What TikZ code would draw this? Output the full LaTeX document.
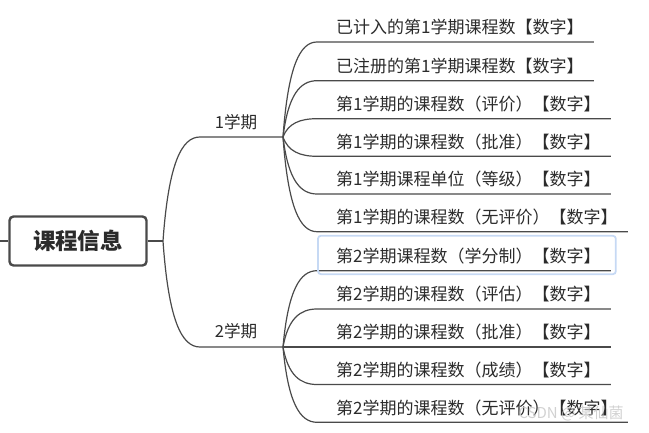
\documentclass[tikz,border=0pt]{standalone}
\usepackage{fontspec}
\newfontfamily\cjk{Noto Sans CJK SC}
\usetikzlibrary{calc}

\definecolor{linegray}{HTML}{4A4A4A}
\definecolor{textgray}{HTML}{2B2B2B}
\definecolor{selblue}{HTML}{C6D9F4}

\tikzset{
  link/.style={draw=linegray, line width=1.2pt},
  branch/.style={to path={.. controls ($(\tikztostart)!0.7!(\tikztostart |- \tikztotarget)!0.15!(\tikztotarget)$) and ($(\tikztostart |- \tikztotarget)!0.5!(\tikztotarget)$) .. (\tikztotarget)}},
  rootbox/.style={draw=linegray, line width=2.4pt, rounded corners=4pt, fill=white, minimum width=137pt, minimum height=49pt, font=\cjk\bfseries\fontsize{22.5}{26}\selectfont, text=textgray},
  leaf/.style={anchor=south west, inner xsep=19pt, inner ysep=4pt, text depth=4pt, font=\cjk\fontsize{17}{20}\selectfont, text=textgray},
  term/.style={font=\cjk\fontsize{16.6}{19}\selectfont, text=textgray},
  selbox/.style={draw=selblue, line width=1.8pt, rounded corners=3pt}
}

\begin{document}
\begin{tikzpicture}[x=1pt,y=-1pt]
\useasboundingbox (0,0) rectangle (649,433);

% root
\coordinate (stub) at (0,241);
\node[rootbox] (root) at (78,241) {课程信息};
\coordinate (j0) at (163,241);
\draw[link, line width=2.6pt] (stub) -- (root.west);
\draw[link] (root.east) -- (j0);

% semesters
\node[term] (s1) at (236,122) {1学期};
\node[term] (s2) at (236,331) {2学期};
\coordinate (h1) at (200,137);
\coordinate (j1) at (283,137);
\coordinate (h2) at (200,347);
\coordinate (j2) at (283,347);
\draw[link] (j0) to[branch] (h1) -- (j1);
\draw[link] (j0) to[branch] (h2) -- (j2);

% leaves of semester 1
\foreach \n/\y/\t in {1/42/{已计入的第1学期课程数【数字】},
                      2/80.7/{已注册的第1学期课程数【数字】},
                      3/118.7/{第1学期的课程数（评价）【数字】},
                      4/156.3/{第1学期的课程数（批准）【数字】},
                      5/194/{第1学期课程单位（等级）【数字】},
                      6/231.7/{第1学期的课程数（无评价）【数字】}} {
  \node[leaf] (c\n) at (317,\y) {\t};
  \draw[link] (j1) to[branch] (c\n.south west) -- ([xshift=-9pt]c\n.south east);
}

% leaves of semester 2
\foreach \n/\y/\t in {7/270.7/{第2学期课程数（学分制）【数字】},
                      8/309/{第2学期的课程数（评估）【数字】},
                      9/347/{第2学期的课程数（批准）【数字】},
                      10/384.5/{第2学期的课程数（成绩）【数字】},
                      11/422.3/{第2学期的课程数（无评价）【数字】}} {
  \node[leaf] (c\n) at (317,\y) {\t};
  \draw[link] (j2) to[branch] (c\n.south west) -- ([xshift=-9pt]c\n.south east);
}

% selected topic
\draw[selbox] ([xshift=1pt,yshift=8pt]c7.north west) rectangle ([xshift=-4pt,yshift=-3.5pt]c7.south east);

% watermark
\node[anchor=west, font=\cjk\fontsize{15}{18}\selectfont, text=gray!45, opacity=0.8] (mark) at (515,413) {CSDN @ 某仙菌};

\end{tikzpicture}
\end{document}
